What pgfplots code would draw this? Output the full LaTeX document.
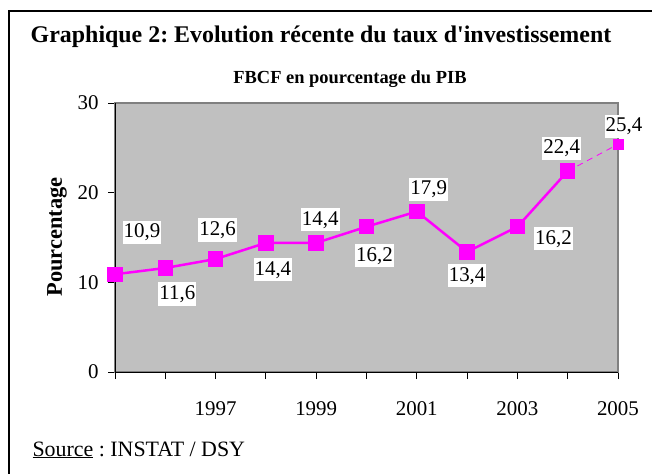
\documentclass[border=0pt]{standalone}
\usepackage{fontspec}
\setmainfont{Liberation Serif}
\usepackage{pgfplots}
\pgfplotsset{compat=1.18}
\usepackage{pgfplotstable}
\frenchspacing

\definecolor{plotgray}{HTML}{C0C0C0}
\definecolor{bordergray}{HTML}{808080}
\definecolor{serie}{HTML}{FF00FF}

% FBCF en % du PIB, dx/dy = decalage de l'etiquette (bp)
\pgfplotstableread{
annee taux dx dy
1995 10.9 27 42
1996 11.6 12 -26
1997 12.6 2 29
1998 14.4 7 -27
1999 14.4 4 23
2000 16.2 8 -29
2001 17.9 12 22
2002 13.4 0 -24
2003 16.2 36 -12
2004 22.4 -6 23
}\fbcf
\pgfplotstableread{
annee taux
2004 22.4
2005 25.4
}\fbcfqueue
\pgfplotstableread{
annee taux dx dy
2005 25.4 6 18
}\fbcfdern

\newcommand{\lbl}{\fontsize{21}{24}\selectfont}

\pgfplotsset{
  etiq/.style={
    point meta=y,
    visualization depends on={\thisrow{dx}\as\dx},
    visualization depends on={\thisrow{dy}\as\dy},
    nodes near coords={\pgfmathprintnumber[fixed,fixed zerofill,precision=1,use comma]{\pgfplotspointmeta}},
    every node near coord/.append style={font=\lbl, text=black, fill=white,
        inner xsep=1bp, inner ysep=3bp, anchor=center,
        xshift=\dx bp, yshift=\dy bp},
  },
}

\begin{document}
\begin{tikzpicture}
\path[use as bounding box] (0,0) rectangle (652bp,-474bp);
\draw[black, line width=2bp] (9bp,-480bp) -- (9bp,-11bp) -- (660bp,-11bp);

\node[font=\fontsize{24}{28}\selectfont\bfseries] at (321bp,-37bp) {Graphique 2: Evolution récente du taux d\textquotesingle investissement};
\node[font=\fontsize{18.5}{22}\selectfont\bfseries] at (350bp,-79bp) {FBCF en pourcentage du PIB};
\node[font=\fontsize{22.5}{26}\selectfont\bfseries, rotate=90] at (57bp,-237bp) {Pourcentage};
\node[font=\fontsize{22}{26}\selectfont, anchor=base west] at (29bp,-456bp) {\underline{Source} : INSTAT / DSY};

\begin{axis}[
    at={(115bp,-372bp)}, anchor=south west,
    scale only axis, width=503bp, height=269bp,
    xmin=1995, xmax=2005, ymin=0, ymax=30,
    xtick={1995,...,2005},
    xticklabels={,,1997,,1999,,2001,,2003,,2005},
    ytick={0,10,20,30},
    xtick pos=bottom, ytick pos=left,
    tick align=outside, major tick length=7bp,
    tick style={black, line width=0.8bp},
    axis background/.style={fill=plotgray},
    axis line style={bordergray, line width=1.5bp},
    ticklabel style={font=\lbl},
    xticklabel style={yshift=-19bp},
    yticklabel style={xshift=-6bp},
    /pgf/number format/assume math mode=true,
    clip=false,
]
\draw[black, line width=1bp] (rel axis cs:0,1) -- (rel axis cs:0,0) -- (rel axis cs:1,0);
\addplot[serie, line width=0.8bp, dash pattern=on 6bp off 5bp, no marks] table[x=annee, y=taux]{\fbcfqueue};
\addplot[serie, line width=2.5bp, mark=square*, mark size=6.5bp, mark options={solid}, etiq]
    table[x=annee, y=taux]{\fbcf};
\addplot[serie, only marks, mark=square*, mark size=5bp, etiq]
    table[x=annee, y=taux]{\fbcfdern};
\end{axis}
\end{tikzpicture}
\end{document}
